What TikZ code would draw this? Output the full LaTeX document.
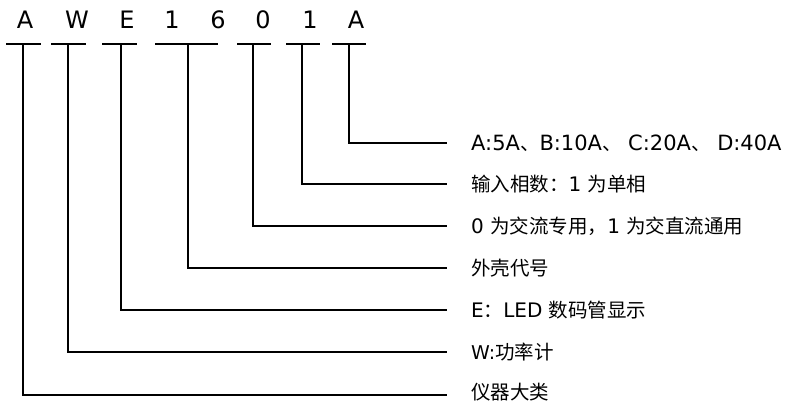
\documentclass[tikz,border=0pt]{standalone}
\usepackage{fontspec}
\setmainfont{DejaVu Sans}
\newfontfamily\cjk{Noto Sans CJK SC}
\newcommand\zh[1]{{\cjk\fontsize{19.5}{22}\selectfont #1}}
\begin{document}
\begin{tikzpicture}[x=1pt,y=-1pt,
  wire/.style={line width=1.7pt, line cap=butt},
  code/.style={anchor=base, inner sep=0pt, font=\fontsize{24}{28}\selectfont},
  lbl/.style={anchor=west, inner sep=0pt, font=\fontsize{20}{23}\selectfont}]
\useasboundingbox (0,0) rectangle (787,403);

% model code letters
\node[code] (c1) at (25,29) {A};
\node[code] (c2) at (77,29) {W};
\node[code] (c3) at (127,29) {E};
\node[code] (c4) at (172,29) {1};
\node[code] (c5) at (218,29) {6};
\node[code] (c6) at (263,29) {0};
\node[code] (c7) at (310,29) {1};
\node[code] (c8) at (356,29) {A};

% underline bars
\coordinate (b1l) at (6,44);   \coordinate (b1r) at (41,44);
\coordinate (b2l) at (51,44);  \coordinate (b2r) at (86,44);
\coordinate (b3l) at (102,44); \coordinate (b3r) at (137,44);
\coordinate (b4l) at (155,44); \coordinate (b4r) at (218,44);
\coordinate (b5l) at (237,44); \coordinate (b5r) at (271,44);
\coordinate (b6l) at (286,44); \coordinate (b6r) at (320,44);
\coordinate (b7l) at (332,44); \coordinate (b7r) at (366,44);
\foreach \i in {1,...,7} { \draw[wire] (b\i l) -- (b\i r); }

% stem tops
\coordinate (s1) at (23,44);
\coordinate (s2) at (68,44);
\coordinate (s3) at (121,44);
\coordinate (s4) at (188,44);
\coordinate (s5) at (253,44);
\coordinate (s6) at (302,44);
\coordinate (s7) at (349,44);

% line ends
\coordinate (e1) at (447,395);
\coordinate (e2) at (447,352);
\coordinate (e3) at (447,310);
\coordinate (e4) at (447,268);
\coordinate (e5) at (447,226);
\coordinate (e6) at (447,184);
\coordinate (e7) at (447,143);

% labels
\node[lbl] (t1) at (471,392.5) {\zh{仪器大类}};
\node[lbl,font=\fontsize{19}{22}\selectfont] (t2) at (471,352) {W:\zh{功率计}};
\node[lbl] (t3) at (471,310) {E\zh{：}LED \zh{数码管显示}};
\node[lbl] (t4) at (471,268) {\zh{外壳代号}};
\node[lbl] (t5) at (471,226) {0 \zh{为交流专用，}1 \zh{为交直流通用}};
\node[lbl] (t6) at (471,184) {\zh{输入相数：}1 \zh{为单相}};
\node[lbl,font=\fontsize{21}{24}\selectfont] (t7) at (471,143) {A:5A\zh{、}B:10A\zh{、} C:20A\zh{、} D:40A};

% connectors
\foreach \i in {1,...,7} { \draw[wire] (s\i) |- (e\i); }
\end{tikzpicture}
\end{document}
